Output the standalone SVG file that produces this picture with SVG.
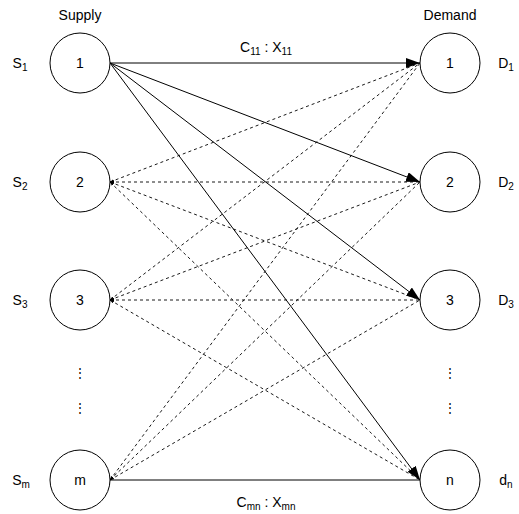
<svg xmlns="http://www.w3.org/2000/svg" width="519" height="514" viewBox="0 0 519 514">
<style>
text{font-family:"Liberation Sans",Arial,sans-serif;font-size:14px;fill:#000;text-anchor:middle}
.sub{font-size:10px}
.dots{font-size:12px}
.node{fill:#fff;stroke:#000;stroke-width:1}
.solid{stroke:#000;stroke-width:1;fill:none}
.dash{stroke:#000;stroke-width:0.9;fill:none;stroke-dasharray:3 3}
</style>
<defs>
<marker id="big" markerUnits="userSpaceOnUse" markerWidth="16" markerHeight="12" refX="14" refY="5" orient="auto">
<path d="M0,0 L14,5 L0,10 Z" fill="#000"/>
</marker>
<marker id="small" markerUnits="userSpaceOnUse" markerWidth="6" markerHeight="6" refX="4" refY="1.5" orient="auto-start-reverse">
<path d="M0,0 L4,1.5 L0,3 Z" fill="#000"/>
</marker>
</defs>
<text x="80" y="20">Supply</text>
<text x="450" y="20">Demand</text>
<g id="connectors">
<line class="solid" x1="110" y1="63" x2="420" y2="63" marker-end="url(#big)"/>
<line class="solid" x1="110" y1="63" x2="420" y2="182" marker-end="url(#big)"/>
<line class="solid" x1="110" y1="63" x2="420" y2="300" marker-end="url(#big)"/>
<line class="solid" x1="110" y1="63" x2="420" y2="480" marker-end="url(#big)"/>
<line class="solid" x1="110" y1="480" x2="420" y2="480"/>
<line class="dash" x1="110" y1="182" x2="420" y2="63" marker-start="url(#small)"/>
<line class="dash" x1="110" y1="182" x2="420" y2="182" marker-start="url(#small)"/>
<line class="dash" x1="110" y1="182" x2="420" y2="300" marker-start="url(#small)"/>
<line class="dash" x1="110" y1="182" x2="420" y2="480" marker-start="url(#small)"/>
<line class="dash" x1="110" y1="300" x2="420" y2="63" marker-start="url(#small)"/>
<line class="dash" x1="110" y1="300" x2="420" y2="182" marker-start="url(#small)"/>
<line class="dash" x1="110" y1="300" x2="420" y2="300" marker-start="url(#small)"/>
<line class="dash" x1="110" y1="300" x2="420" y2="480" marker-start="url(#small)"/>
<line class="dash" x1="110" y1="480" x2="420" y2="63" marker-start="url(#small)"/>
<line class="dash" x1="110" y1="480" x2="420" y2="182" marker-start="url(#small)"/>
<line class="dash" x1="110" y1="480" x2="420" y2="300" marker-start="url(#small)"/>
<text x="266" y="52">C<tspan class="sub" dy="3">11</tspan><tspan dy="-3"> : X</tspan><tspan class="sub" dy="3">11</tspan></text>
<text x="266" y="507">C<tspan class="sub" dy="3">mn</tspan><tspan dy="-3"> : X</tspan><tspan class="sub" dy="3">mn</tspan></text>
</g>
<g id="s1"><circle class="node" cx="80" cy="63" r="30"/><text x="80" y="68">1</text><text x="20" y="68">S<tspan class="sub" dy="3">1</tspan></text></g>
<g id="s2"><circle class="node" cx="80" cy="182" r="30"/><text x="80" y="187">2</text><text x="20" y="187">S<tspan class="sub" dy="3">2</tspan></text></g>
<g id="s3"><circle class="node" cx="80" cy="300" r="30"/><text x="80" y="305">3</text><text x="20" y="305">S<tspan class="sub" dy="3">3</tspan></text></g>
<g id="sm"><circle class="node" cx="80" cy="480" r="30"/><text x="80" y="485">m</text><text x="21" y="485">S<tspan class="sub" dy="3">m</tspan></text></g>
<g id="d1"><circle class="node" cx="450" cy="63" r="30"/><text x="450" y="68">1</text><text x="506" y="68">D<tspan class="sub" dy="3">1</tspan></text></g>
<g id="d2"><circle class="node" cx="450" cy="182" r="30"/><text x="450" y="187">2</text><text x="506" y="187">D<tspan class="sub" dy="3">2</tspan></text></g>
<g id="d3"><circle class="node" cx="450" cy="300" r="30"/><text x="450" y="305">3</text><text x="506" y="305">D<tspan class="sub" dy="3">3</tspan></text></g>
<g id="dn"><circle class="node" cx="450" cy="480" r="30"/><text x="450" y="485">n</text><text x="506" y="485">d<tspan class="sub" dy="3">n</tspan></text></g>
<g id="dots-left"><text class="dots" x="80" y="377">⋮</text><text class="dots" x="80" y="412">⋮</text></g>
<g id="dots-right"><text class="dots" x="450" y="377">⋮</text><text class="dots" x="450" y="412">⋮</text></g>
</svg>
